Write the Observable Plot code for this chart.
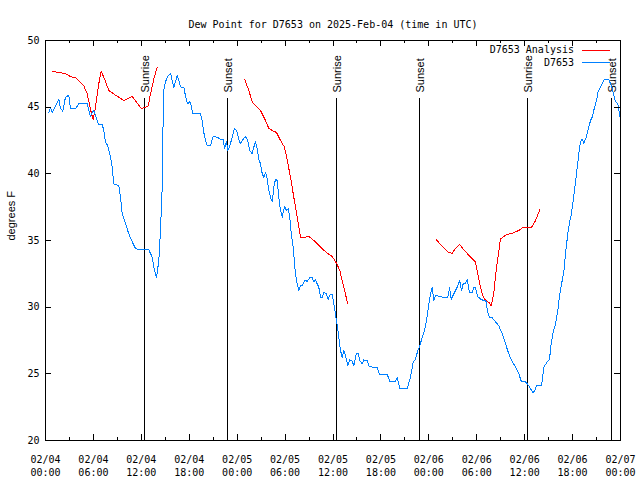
<!DOCTYPE html>
<html><head><meta charset="utf-8">
<script src="https://cdn.jsdelivr.net/npm/d3@7"></script>
<script src="https://cdn.jsdelivr.net/npm/@observablehq/plot@0.6"></script>
<style>body{margin:0;background:#fff;} svg{shape-rendering:crispEdges;}</style>
</head><body><div id="chart"></div>
<script>
// ---- data (hours since 2025-02-04 00:00 UTC) ----
const obsHours = [0.41,0.63,0.84,1.13,1.67,1.88,2.17,2.5,2.92,3.13,3.76,4.17,4.8,5.22,5.63,5.85,6.05,6.26,6.47,6.67,7.1,7.3,7.51,7.8,8.14,8.35,8.55,9.18,9.39,9.6,10.02,10.43,10.86,11.27,11.9,12.94,13.36,13.56,13.9,14.19,14.4,14.61,14.69,14.81,15.03,15.24,15.44,15.65,15.87,16.07,16.28,16.49,16.69,16.9,17.12,17.32,17.44,17.66,17.82,18.07,18.24,18.44,19.41,19.62,19.82,20.04,20.25,20.66,20.87,21.0,21.5,21.91,22.25,22.41,22.66,22.83,23.08,23.38,23.67,23.92,24.2,24.42,24.63,25.04,25.33,25.58,25.88,26.08,26.3,26.51,26.71,26.92,27.14,27.34,27.55,27.76,27.96,28.17,28.39,28.59,28.8,29.01,29.21,29.43,29.64,29.93,30.18,30.39,30.59,30.77,31.02,31.22,31.43,31.72,31.93,32.14,32.43,32.77,33.1,33.4,33.6,33.81,34.02,34.22,34.44,34.65,34.85,35.15,35.4,35.6,35.9,36.1,36.31,36.53,36.73,36.94,37.15,37.35,37.56,37.85,38.1,38.4,38.61,38.94,39.16,39.36,39.66,39.86,39.98,40.28,40.48,40.91,41.54,41.82,42.79,43.11,43.83,44.04,44.37,45.29,45.71,46.04,46.33,46.62,46.87,47.17,47.46,47.71,48.0,48.21,48.42,48.62,48.84,49.67,50.38,50.59,50.8,51.13,51.55,51.88,52.09,52.3,52.59,52.8,53.09,53.43,53.63,53.84,54.13,54.47,54.88,55.16,55.38,55.63,55.93,56.35,56.76,57.19,57.6,58.01,58.44,58.85,59.27,59.57,60.1,60.52,60.73,61.02,61.27,61.48,62.11,62.4,62.82,63.11,63.32,63.57,63.86,64.15,64.4,64.7,64.9,65.11,65.4,65.65,65.83,66.08,66.28,66.49,66.78,66.99,67.2,67.41,67.71,67.91,68.25,68.46,68.75,69.0,69.16,69.5,69.71,70.0,70.54,70.84,71.09,71.38,71.67,71.92];
const obsValues = [44.6,44.95,44.6,44.95,45.6,44.9,44.7,45.75,45.9,44.9,44.9,45.25,45.3,45.25,44.3,44.6,44.75,44.4,44.0,43.7,43.7,43.25,42.4,42.1,41.25,40.5,39.25,39.1,38.25,37.0,36.25,35.5,34.9,34.4,34.3,34.3,33.75,33.0,32.2,33.5,35.75,39.0,42.75,46.25,46.9,47.25,47.4,47.55,47.0,46.5,46.9,47.4,47.0,46.55,46.45,46.5,46.1,45.5,45.25,45.4,45.1,44.5,44.5,44.0,43.1,42.5,42.1,42.1,42.6,42.8,42.75,42.6,42.6,41.9,42.4,41.75,42.1,42.75,43.4,43.25,42.6,42.25,42.5,42.8,42.5,41.75,41.5,42.0,42.4,41.9,41.1,40.75,40.0,39.75,40.1,39.6,38.75,38.25,37.9,39.0,39.6,39.5,38.25,37.25,36.75,37.55,37.25,37.4,36.75,35.5,34.5,33.0,32.0,31.25,31.6,31.6,32.0,31.95,32.2,32.2,31.9,32.05,31.75,31.5,30.75,30.75,31.1,31.0,30.6,30.9,30.95,30.25,29.5,28.6,27.75,26.75,26.25,26.75,26.4,25.6,26.05,25.95,25.6,26.55,26.5,26.0,25.75,26.05,26.0,26.0,25.6,25.5,25.5,24.95,24.95,24.45,24.45,24.75,23.9,23.9,24.75,25.9,26.1,26.75,27.1,27.75,28.25,29.0,30.25,31.0,31.45,30.5,30.9,30.75,30.75,31.45,30.6,31.0,31.5,32.0,31.25,31.75,31.75,32.1,31.1,31.1,31.45,31.45,30.8,30.6,30.5,30.45,29.6,29.2,29.2,28.9,28.6,28.0,27.25,26.5,25.9,25.55,25.0,24.45,24.4,24.1,23.9,23.6,23.75,24.1,24.1,25.5,25.9,26.1,27.25,28.1,28.75,29.75,31.0,32.0,32.6,34.0,35.5,36.5,36.9,38.0,39.0,40.0,41.5,42.4,42.6,42.3,42.75,43.25,44.0,44.25,45.0,45.5,46.1,46.5,46.75,47.1,47.1,46.6,46.1,45.4,45.25,44.3];

// analysis series; NaN marks the gaps between runs
const anaHours = [0.84,1.88,2.5,3.13,3.76,4.3,4.8,5.22,5.55,5.76,5.97,6.26,6.67,6.97,7.3,7.93,8.77,9.8,10.86,11.48,11.98,12.52,12.86,13.15,13.56,13.99,
  19.0,
  24.96,25.46,25.88,26.42,26.92,27.55,27.96,28.39,28.93,29.43,29.93,30.27,30.68,31.09,31.52,31.93,32.43,32.97,33.6,34.44,35.27,35.9,36.44,36.85,37.35,37.85,
  43.0,
  48.96,49.46,50.09,50.5,50.93,51.34,51.88,52.38,53.0,53.84,54.13,54.47,54.81,55.22,55.63,55.8,56.12,56.44,56.97,57.6,58.44,59.27,59.69,60.86,61.36,61.9];
const anaValues = [47.67,47.6,47.5,47.3,47.2,46.9,46.6,46.0,45.1,44.5,44.1,45.0,46.75,47.67,47.25,46.25,45.9,45.5,45.8,45.3,44.9,45.0,45.1,46.0,47.1,48.0,
  NaN,
  47.05,46.25,45.4,45.05,44.75,44.0,43.4,43.25,43.1,42.5,42.0,41.0,39.75,38.25,36.75,35.25,35.25,35.3,35.0,34.5,34.05,33.8,33.3,32.75,31.5,30.25,
  NaN,
  35.05,34.7,34.3,34.1,34.05,34.4,34.7,34.3,33.9,33.4,32.5,31.5,30.75,30.45,30.3,30.1,31.0,32.8,35.1,35.4,35.55,35.75,35.95,36.0,36.5,37.3];

const sunHours = [12.43, 22.83, 36.48, 46.87, 60.39, 70.91];
const sunLabels = ["Sunrise", "Sunset", "Sunrise", "Sunset", "Sunrise", "Sunset"];
const sunLabelLevel = 46.1;
const sunLineTop = 45.65;

const xTickHours = [0, 6, 12, 18, 24, 30, 36, 42, 48, 54, 60, 66, 72];
const xMinorHours = [3, 9, 15, 21, 27, 33, 39, 45, 51, 57, 63, 69];
const xTickLabels = ["02/04\n00:00","02/04\n06:00","02/04\n12:00","02/04\n18:00","02/05\n00:00","02/05\n06:00","02/05\n12:00","02/05\n18:00","02/06\n00:00","02/06\n06:00","02/06\n12:00","02/06\n18:00","02/07\n00:00"];
const yTicks = [20, 25, 30, 35, 40, 45, 50];

const titleText = "Dew Point for D7653 on 2025-Feb-04 (time in UTC)";
const yLabelText = "degrees F";
const seriesNames = ["D7653 Analysis", "D7653"];

// ---- chart ----
const W = 640, H = 480, mL = 45, mR = 20, mT = 40, mB = 40;
const xDom = [0, 72], yDom = [20, 50];
const uy = (yDom[1] - yDom[0]) / (H - mT - mB);
const ux = (xDom[1] - xDom[0]) / (W - mL - mR);
const MONO = "DejaVu Sans Mono, monospace";
const SANS = "Liberation Sans, Arial, sans-serif";
const RED = "#ff0000", BLUE = "#0080ff";

const obs = obsHours.map((h, i) => ({h, v: obsValues[i]}));
const ana = anaHours.map((h, i) => ({h, v: anaValues[i]}));

const chart = Plot.plot({
  width: W, height: H,
  marginLeft: mL, marginRight: mR, marginTop: mT, marginBottom: mB,
  style: {fontFamily: MONO, fontSize: "10px", background: "#fff", color: "#000"},
  x: {domain: xDom, axis: null},
  y: {domain: yDom},
  marks: [
    // sunrise / sunset markers
    Plot.ruleX(sunHours, {x: d => d, y1: yDom[0], y2: sunLineTop, stroke: "#000"}),
    Plot.text(sunHours, {x: d => d, y: sunLabelLevel, text: (d, i) => sunLabels[i], rotate: -90,
      textAnchor: "start", lineAnchor: "middle", dx: 1, fontFamily: SANS, fontSize: 11, fill: "#000"}),
    // series
    Plot.line(ana, {x: "h", y: "v", stroke: RED, strokeWidth: 1}),
    Plot.line(obs, {x: "h", y: "v", stroke: BLUE, strokeWidth: 1}),
    // frame and inward ticks
    Plot.frame({stroke: "#000"}),
    Plot.ruleX(xTickHours, {x: d => d, y1: yDom[0], y2: yDom[0] + 6 * uy, stroke: "#000"}),
    Plot.ruleX(xTickHours, {x: d => d, y1: yDom[1], y2: yDom[1] - 6 * uy, stroke: "#000"}),
    Plot.ruleX(xMinorHours, {x: d => d, y1: yDom[0], y2: yDom[0] + 3 * uy, stroke: "#000"}),
    Plot.ruleX(xMinorHours, {x: d => d, y1: yDom[1], y2: yDom[1] - 3 * uy, stroke: "#000"}),
    Plot.ruleY(yTicks, {y: d => d, x1: xDom[0], x2: xDom[0] + 6 * ux, stroke: "#000"}),
    Plot.ruleY(yTicks, {y: d => d, x1: xDom[1], x2: xDom[1] - 6 * ux, stroke: "#000"}),
    // axes labels
    Plot.axisY({ticks: yTicks, tickSize: 0, tickPadding: 6, label: null, fontFamily: MONO, fontSize: 10}),
    Plot.text(xTickHours, {x: d => d, text: (d, i) => xTickLabels[i], frameAnchor: "bottom",
      lineAnchor: "top", dy: 14, lineHeight: 1.25, fontFamily: MONO, fontSize: 10, fill: "#000"}),
    Plot.text([yLabelText], {frameAnchor: "left", dx: -34, rotate: -90, fontFamily: SANS, fontSize: 11, fill: "#000"}),
    Plot.text([titleText], {frameAnchor: "top", dy: -20, fontFamily: MONO, fontSize: 10, fill: "#000"})
  ]
});
document.getElementById("chart").appendChild(chart);

// legend (inside the frame, top right)
const svg = d3.select(chart);
const lg = svg.append("g").attr("font-family", MONO).attr("font-size", 10);
[RED, BLUE].forEach((c, i) => {
  const y = 50 + i * 12.7;
  lg.append("text").attr("x", 574).attr("y", y).attr("dy", "0.32em")
    .attr("text-anchor", "end").attr("fill", "#000").text(seriesNames[i]);
  lg.append("line").attr("x1", 582).attr("x2", 610).attr("y1", y).attr("y2", y)
    .attr("stroke", c).attr("stroke-width", 1);
});
</script>
</body></html>
